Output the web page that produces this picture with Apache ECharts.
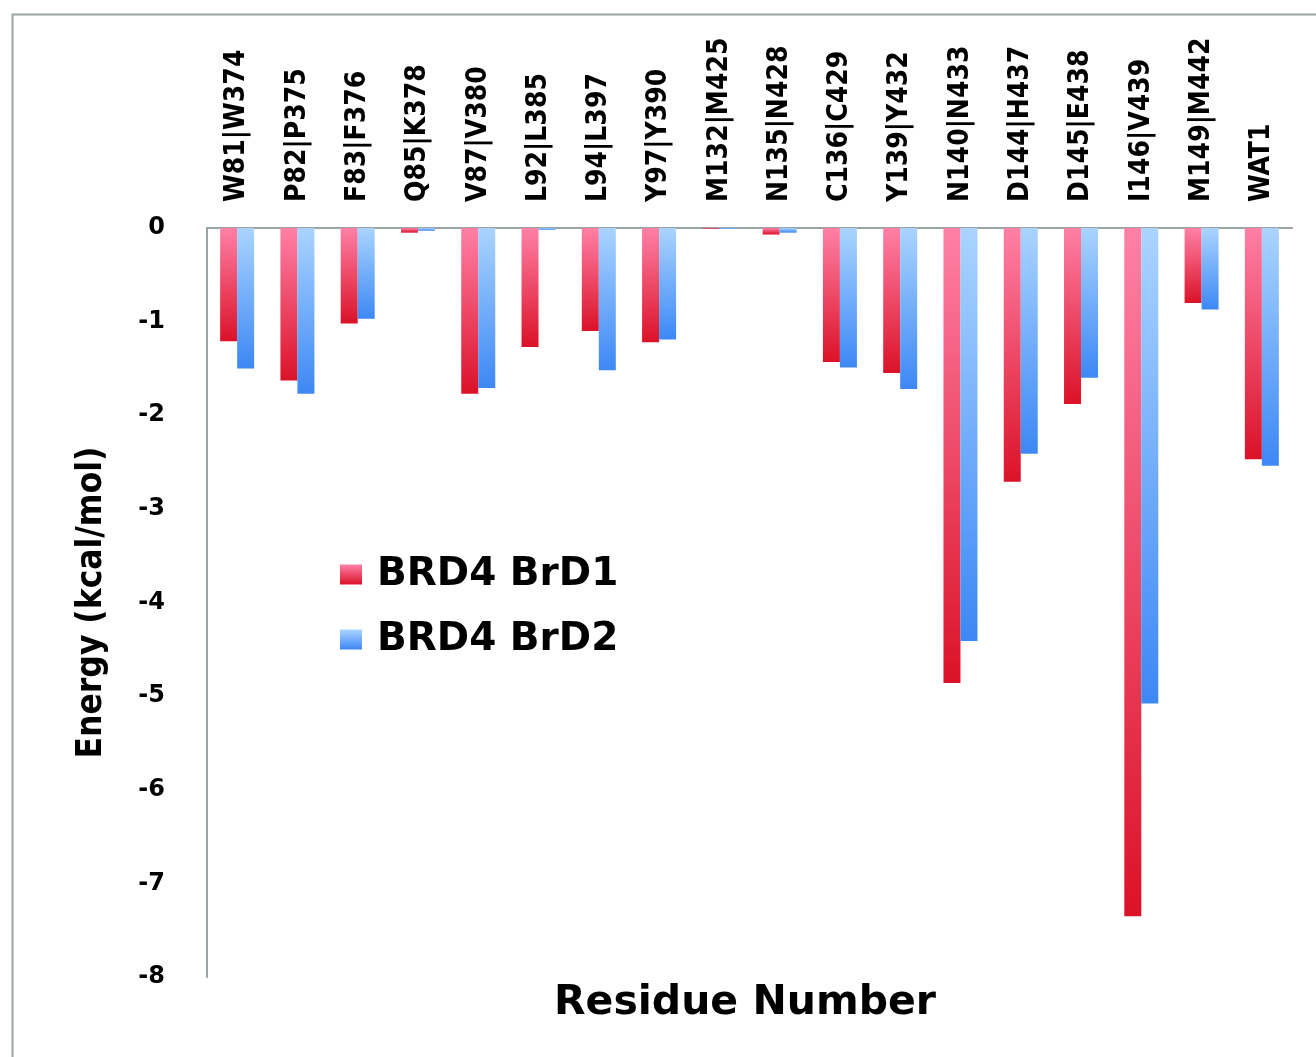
<!DOCTYPE html>
<html>
<head>
<meta charset="utf-8">
<title>Residue energy decomposition</title>
<script src="https://cdn.jsdelivr.net/npm/echarts@6/dist/echarts.min.js"></script>
<style>
  html, body { margin: 0; padding: 0; background: #fff; }
  #chart { width: 1316px; height: 1057px; }
</style>
</head>
<body>
<div id="chart"></div>
<script>
const residues = [
  'W81|W374', 'P82|P375', 'F83|F376', 'Q85|K378', 'V87|V380', 'L92|L385',
  'L94|L397', 'Y97|Y390', 'M132|M425', 'N135|N428', 'C136|C429', 'Y139|Y432',
  'N140|N433', 'D144|H437', 'D145|E438', 'I146|V439', 'M149|M442', 'WAT1'
]
const brd1 = [-1.21, -1.63, -1.02, -0.05, -1.77, -1.27, -1.10, -1.22, -0.01, -0.07, -1.43, -1.55, -4.86, -2.71, -1.88, -7.35, -0.80, -2.47]
const brd2 = [-1.50, -1.77, -0.97, -0.03, -1.71, -0.02, -1.52, -1.19, -0.01, -0.05, -1.49, -1.72, -4.41, -2.41, -1.60, -5.08, -0.87, -2.54]
const yTicks = [0, -1, -2, -3, -4, -5, -6, -7, -8]

const labelFont = '"DejaVu Sans Condensed", "Open Sans", sans-serif'
const boldFont = '"DejaVu Sans", Verdana, sans-serif'

function grad(top, bottom) {
  return new echarts.graphic.LinearGradient(0, 0, 0, 1, [
    { offset: 0, color: top },
    { offset: 1, color: bottom }
  ])
}

const chart = echarts.init(document.getElementById('chart'))

const option = {
  backgroundColor: '#fff',
  animation: false,
  graphic: [
    {
      type: 'rect',
      left: 10, top: 12,
      shape: { width: 1320, height: 1060 },
      style: { fill: 'none', stroke: '#9aa3a6', lineWidth: 2 },
      silent: true
    },
    {
      type: 'text',
      left: 554,
      top: 983,
      style: {
        text: 'Residue Number',
        font: 'bold 41px ' + boldFont,
        fill: '#000'
      }
    }
  ],
  legend: {
    orient: 'vertical',
    left: 335,
    top: 550,
    itemWidth: 22,
    itemHeight: 20,
    itemGap: 26,
    icon: 'rect',
    textStyle: { fontFamily: boldFont, fontWeight: 'bold', fontSize: 39, color: '#000', padding: [0, 0, 0, 10] },
    data: ['BRD4 BrD1', 'BRD4 BrD2']
  },
  grid: { left: 207, right: 24, top: 228, bottom: 80 },
  xAxis: {
    type: 'category',
    position: 'top',
    data: residues,
    axisLine: { show: true, lineStyle: { color: '#9aa3a6', width: 2 } },
    axisTick: { show: false },
    axisLabel: {
      rotate: 90,
      interval: 0,
      margin: 26,
      fontFamily: labelFont,
      fontWeight: 'bold',
      fontSize: 28,
      color: '#000'
    }
  },
  yAxis: {
    type: 'value',
    min: -8,
    max: 0,
    interval: 1,
    name: 'Energy (kcal/mol)',
    nameLocation: 'middle',
    nameGap: 98,
    nameRotate: 90,
    nameTextStyle: { fontFamily: labelFont, fontWeight: 'bold', fontSize: 35, color: '#000' },
    axisLine: { show: true, lineStyle: { color: '#9aa3a6', width: 2 } },
    axisTick: { show: false },
    splitLine: { show: false },
    axisLabel: {
      margin: 42,
      fontFamily: boldFont,
      fontWeight: 'bold',
      fontSize: 24,
      color: '#000',
      formatter: v => (yTicks.includes(v) ? String(v) : '')
    }
  },
  series: [
    {
      name: 'BRD4 BrD1',
      type: 'bar',
      data: brd1,
      barWidth: 17,
      barGap: '0%',
      itemStyle: { color: grad('#ff80a6', '#db1228') }
    },
    {
      name: 'BRD4 BrD2',
      type: 'bar',
      data: brd2,
      barWidth: 17,
      itemStyle: { color: grad('#aad4ff', '#3d88f5') }
    }
  ]
}

chart.setOption(option)
</script>
</body>
</html>
